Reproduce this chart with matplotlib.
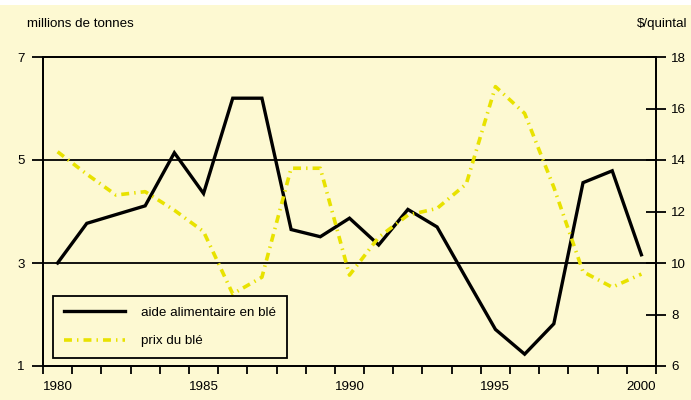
import matplotlib.pyplot as plt
from matplotlib.patches import Rectangle
from matplotlib import font_manager

years = list(range(1980, 2001))
aide = [3.0, 3.77, 3.94, 4.11, 5.14, 4.35, 6.2, 6.2, 3.65, 3.51, 3.87,
        3.35, 4.04, 3.7, 2.7, 1.71, 1.23, 1.82, 4.56, 4.79, 3.16]
prix = [14.32, 13.45, 12.64, 12.77, 12.05, 11.22, 8.8, 9.45, 13.68, 13.68, 9.53,
        11.0, 11.86, 12.12, 13.07, 16.85, 15.81, 12.94, 9.66, 9.06, 9.57]

left_ticks = [1, 3, 5, 7]
right_ticks = [6, 8, 10, 12, 14, 16, 18]
year_labels = [1980, 1985, 1990, 1995, 2000]

names = {f.name for f in font_manager.fontManager.ttflist}
fam = 'Liberation Sans Narrow' if 'Liberation Sans Narrow' in names else 'Liberation Sans'
plt.rcParams['font.family'] = [fam, 'DejaVu Sans']
plt.rcParams['font.size'] = 9.6

cream = '#fdf9d2'
yellow = '#e8e200'

fig = plt.figure(figsize=(6.91, 4.0), dpi=100)
fig.patches.append(Rectangle((0, 0), 1, 1 - 5 / 400, transform=fig.transFigure,
                             facecolor=cream, edgecolor='none', zorder=-10))

ax = fig.add_axes([43 / 691, 34 / 400, 613 / 691, 309 / 400])
ax.set_facecolor(cream)
ax2 = ax.twinx()

ax.set_xlim(1979.5, 2000.5)
ax.set_ylim(1, 7)
ax2.set_ylim(6, 18)

for v in [3, 5]:
    ax.axhline(v, color='black', lw=1.3, zorder=1)

l1, = ax.plot(years, aide, color='black', lw=2.4, solid_joinstyle='miter',
              label='aide alimentaire en blé', zorder=3)
l2, = ax2.plot(years, prix, color=yellow, lw=2.6,
               linestyle=(0, (2.2, 1.4, 0.4, 1.4)),
               label='prix du blé', zorder=4)

for a in (ax, ax2):
    for s in a.spines.values():
        s.set_linewidth(1.3)

# category style x axis: ticks at boundaries, labels at year centres
ax.set_xticks([y - 0.5 for y in years] + [2000.5])
ax.set_xticklabels([])
ax.set_xticks(year_labels, minor=True)
ax.set_xticklabels([str(y) for y in year_labels], minor=True)
ax.tick_params(axis='x', which='major', direction='out', length=6, width=1.3)
ax.tick_params(axis='x', which='minor', length=0, pad=11)

ax.set_yticks(left_ticks)
ax.tick_params(axis='y', direction='out', length=8, width=1.3, pad=5)
ax2.set_yticks(right_ticks)
ax2.tick_params(axis='y', direction='inout', length=14, width=1.3, pad=4)

fig.text(27 / 691, 1 - 24 / 400, 'millions de tonnes', ha='left', va='center')
fig.text(687 / 691, 1 - 24 / 400, '$/quintal', ha='right', va='center')

leg = ax2.legend(handles=[l1, l2], loc='lower left',
                 bbox_to_anchor=(10 / 613, 8 / 309), borderaxespad=0,
                 fancybox=False, edgecolor='black', facecolor=cream, framealpha=1,
                 handlelength=4.6, handletextpad=1.2, labelspacing=1.2,
                 borderpad=0.8)
leg.get_frame().set_linewidth(1.3)

fig.savefig('out.png', dpi=100)
